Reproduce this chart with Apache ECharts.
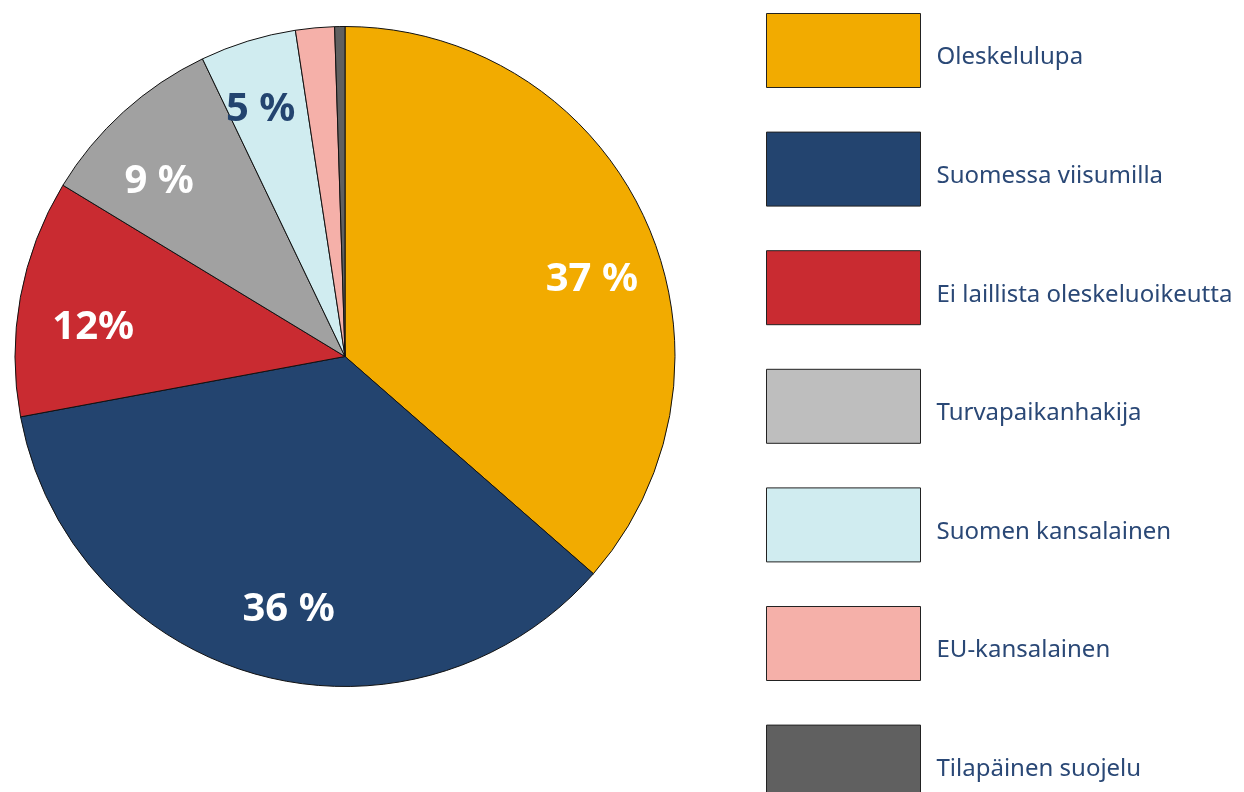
<!DOCTYPE html>
<html>
<head>
<meta charset="utf-8">
<script src="https://cdn.jsdelivr.net/npm/echarts@6/dist/echarts.min.js"></script>
<style>
  html, body { margin: 0; padding: 0; background: #fff; }
  #chart { width: 1244px; height: 792px; }
</style>
</head>
<body>
<div id="chart"></div>
<script>
// osuudet (%) luettuna kuvasta, myötäpäivään klo 12 alkaen
const categories = [
  'Oleskelulupa',
  'Suomessa viisumilla',
  'Ei laillista oleskeluoikeutta',
  'Turvapaikanhakija',
  'Suomen kansalainen',
  'EU-kansalainen',
  'Tilapäinen suojelu'
]
const shares = [36.4, 35.6, 11.6, 9.2, 4.7, 1.9, 0.5]
const shareLabels = ['37 %', '36 %', '12%', '9 %', '5 %', '', '']
const sliceColors = ['#F2AB00', '#23446F', '#C92B31', '#A1A1A1', '#D0ECF0', '#F5B0A9', '#606060']
const legendColors = ['#F2AB00', '#23446F', '#C92B31', '#BEBEBE', '#D0ECF0', '#F5B0A9', '#606060']
const labelColors = ['#fff', '#fff', '#fff', '#fff', '#23446F', '#fff', '#fff']

const chart = echarts.init(document.getElementById('chart'))

const CENTER = [345, 356.5]
const R = 330

// Excel-tyyliset pienet siirrot prosenttiteksteille
const labelNudge = [[11, 30], [12, 3], [3, 18], [-12, 17], [-8, 1], [0, 0], [0, 0]]

chart.setOption({
  animation: false,
  legend: {
    orient: 'vertical',
    left: 766,
    top: 13,
    height: 900,
    padding: 0,
    icon: 'rect',
    itemWidth: 154,
    itemHeight: 74,
    itemGap: 43.6,
    selectedMode: false,
    itemStyle: { borderColor: '#222', borderWidth: 1 },
    formatter: name => `{t|${name}}`,
    textStyle: {
      fontFamily: 'Noto Sans',
      fontSize: 24,
      color: '#2A4876',
      rich: {
        t: {
          fontFamily: 'Noto Sans',
          fontSize: 24,
          color: '#2A4876',
          padding: [14, 0, 0, 11],
        },
      },
    },
    data: categories.map((name, i) => ({ name, itemStyle: { color: legendColors[i] } })),
  },
  series: [
    {
      // varsinaiset sektorit
      type: 'pie',
      center: CENTER,
      radius: [0, R],
      startAngle: 90,
      clockwise: true,
      silent: true,
      label: { show: false },
      labelLine: { show: false },
      itemStyle: { borderColor: '#111', borderWidth: 1 },
      data: categories.map((name, i) => ({
        name,
        value: shares[i],
        itemStyle: { color: sliceColors[i] },
      })),
    },
    {
      // läpinäkyvä rengas, jonka keskelle prosenttitekstit osuvat
      type: 'pie',
      center: CENTER,
      radius: [182, R],
      startAngle: 90,
      clockwise: true,
      silent: true,
      avoidLabelOverlap: false,
      labelLine: { show: false },
      itemStyle: { color: 'transparent', borderWidth: 0 },
      label: {
        show: true,
        position: 'inside',
        fontFamily: 'Noto Sans',
        fontWeight: 'bold',
        fontSize: 40,
        formatter: p => shareLabels[p.dataIndex],
      },
      labelLayout: p => ({ dx: labelNudge[p.dataIndex][0], dy: labelNudge[p.dataIndex][1] }),
      data: categories.map((name, i) => ({
        name,
        value: shares[i],
        label: { color: labelColors[i] },
      })),
    },
  ],
})
</script>
</body>
</html>
